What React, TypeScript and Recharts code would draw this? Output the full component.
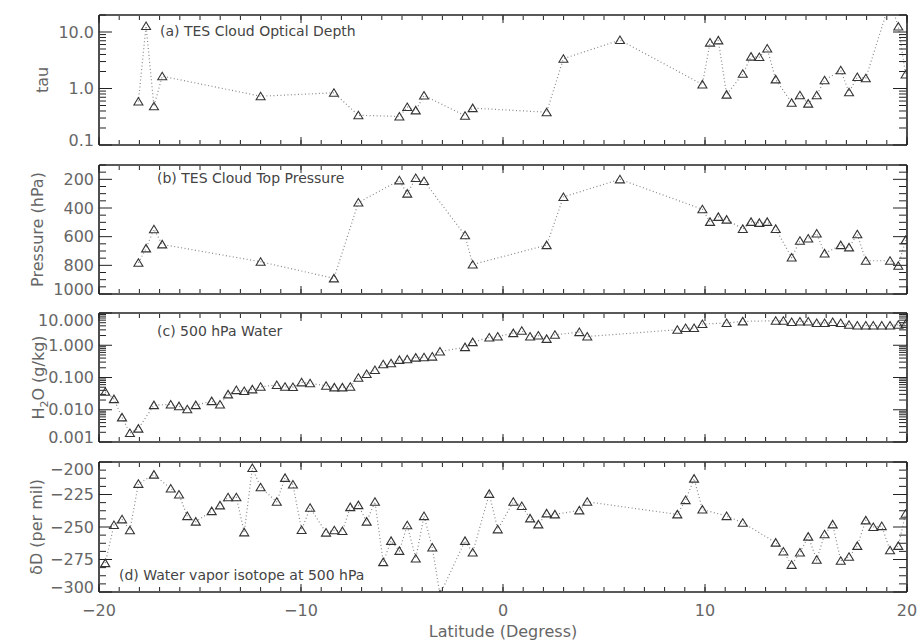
import React from "react";
import { Line, LineChart, XAxis, YAxis } from "recharts";

// latitudes where TES saw cloud (panels a, b)
const cloudLatitude = [
  -18.05, -17.67, -17.28, -16.87, -12.0, -8.37, -7.16, -5.13, -4.74, -4.32,
  -3.91, -1.88, -1.5, 2.16, 2.99, 5.79, 9.87, 10.25, 10.66, 11.07, 11.87,
  12.28, 12.69, 13.08, 13.5, 14.29, 14.7, 15.11, 15.53, 15.92, 16.72, 17.13,
  17.54, 17.96, 19.16, 19.57, 19.93,
];
const tauValues = [
  0.59, 12.8, 0.485, 1.65, 0.73, 0.84, 0.336, 0.32, 0.47, 0.41, 0.75, 0.33,
  0.45, 0.38, 3.37, 7.2, 1.18, 6.5, 7.1, 0.78, 1.82, 3.66, 3.6, 5.1, 1.45,
  0.56, 0.76, 0.54, 0.76, 1.4, 2.1, 0.86, 1.6, 1.52, 35, 12.5, 1.77,
];
const cloudTopPressure = [
  782, 682, 548, 654, 775, 891, 362, 207, 300, 191, 212, 590, 794, 659, 323,
  200, 409, 497, 462, 481, 546, 497, 504, 497, 546, 745, 629, 613, 578, 717,
  659, 675, 583, 768, 768, 803, 624,
];

// latitudes of the 500 hPa retrievals (panels c, d)
const vaporLatitude = [
  -19.69, -19.26, -18.86, -18.47, -18.05, -17.28, -16.45, -16.04, -15.63,
  -15.21, -14.42, -14.01, -13.61, -13.2, -12.81, -12.41, -12.0, -11.2, -10.79,
  -10.4, -9.97, -9.55, -8.76, -8.35, -7.95, -7.56, -7.16, -6.75, -6.34, -5.93,
  -5.54, -5.13, -4.74, -4.32, -3.91, -3.5, -3.12, -1.88, -1.5, -0.68, -0.26,
  0.51, 0.93, 1.34, 1.75, 2.16, 2.57, 3.78, 4.17, 8.63, 9.04, 9.46, 9.87,
  11.07, 11.87, 13.5, 13.88, 14.29, 14.7, 15.11, 15.53, 15.92, 16.32, 16.72,
  17.13, 17.54, 17.96, 18.33, 18.75, 19.16, 19.57, 19.93,
];
const waterValues = [
  0.036, 0.0214, 0.0058, 0.0019, 0.0026, 0.0139, 0.0146, 0.0129, 0.0104,
  0.0139, 0.0185, 0.0146, 0.03, 0.0407, 0.038, 0.0428, 0.0517, 0.0583, 0.0517,
  0.0506, 0.0708, 0.066, 0.0556, 0.0495, 0.0495, 0.0517, 0.0986, 0.128, 0.171,
  0.258, 0.277, 0.351, 0.369, 0.414, 0.425, 0.445, 0.637, 0.873, 1.25, 1.74,
  1.87, 2.38, 2.81, 1.87, 2.0, 1.58, 2.11, 2.56, 1.87, 3.02, 3.41, 3.41, 4.54,
  4.9, 5.5, 5.75, 5.75, 5.25, 5.47, 5.47, 4.9, 4.9, 5.25, 4.9, 4.32, 4.1, 4.1,
  4.1, 4.1, 4.1, 4.3, 4.54,
];
const deltaDValues = [
  -277.8, -248.5, -244.1, -252.5, -216.8, -209.7, -220.4, -225, -241.6,
  -245.9, -237.8, -233.4, -227.1, -227.1, -254.1, -204.6, -219.4, -230.6,
  -212.2, -217.3, -252.3, -235.2, -254.3, -252.5, -253.1, -234.7, -233.2,
  -245.9, -230.6, -277.0, -260.7, -268.4, -248.7, -274.2, -241.6, -265.8, -302,
  -260.7, -269.6, -224.5, -251.8, -230.6, -233.9, -243.4, -248, -239.5, -240.3,
  -237.2, -230.6, -240.3, -229.3, -212.8, -236.5, -241.6, -246.7, -262, -268.9,
  -279.1, -269.6, -257.4, -275.2, -255.6, -248, -276, -272.9, -264.5, -244.9,
  -250, -249.3, -267.9, -264.5, -239.8,
];

// tick marks
const xMajorTicks = [-20, -10, 0, 10, 20];
const xMinorTicks = Array.from({ length: 41 }, (_, i) => i - 20);
const tauTicks = [0.1, 1, 10];
const tauMinor = [0.2, 0.3, 0.4, 0.5, 0.6, 0.7, 0.8, 0.9, 2, 3, 4, 5, 6, 7, 8, 9, 20];
const pressureTicks = [200, 400, 600, 800, 1000];
const pressureMinor = [100, 150, 250, 300, 350, 450, 500, 550, 650, 700, 750, 850, 900, 950];
const waterTicks = [0.001, 0.01, 0.1, 1, 10];
const waterMinor = [
  0.002, 0.003, 0.004, 0.005, 0.006, 0.007, 0.008, 0.009, 0.02, 0.03, 0.04,
  0.05, 0.06, 0.07, 0.08, 0.09, 0.2, 0.3, 0.4, 0.5, 0.6, 0.7, 0.8, 0.9, 2, 3,
  4, 5, 6, 7, 8, 9,
];
const deltaTicks = [-300, -275, -250, -225, -200];
const deltaMinor = [
  -293.75, -287.5, -281.25, -268.75, -262.5, -256.25, -243.75, -237.5,
  -231.25, -218.75, -212.5, -206.25,
];

const cloudRows = cloudLatitude.map((lat, i) => ({
  lat,
  tau: tauValues[i],
  pressure: cloudTopPressure[i],
}));
const vaporRows = vaporLatitude.map((lat, i) => ({
  lat,
  water: waterValues[i],
  deltaD: deltaDValues[i],
}));

const FONT = '"DejaVu Sans", Verdana, sans-serif';
const FRAME = "#222";
const TEXT = "#666";

const minus = (s: string) => s.replace("-", "\u2212");

const NoLabel = () => <g />;

function triangleDot(p: any) {
  const { cx, cy, index } = p;
  if (cx == null || cy == null) return <g key={`t${index}`} />;
  return (
    <path
      key={`t${index}`}
      d={`M${cx - 4.5},${cy + 3.5}L${cx},${cy - 4}L${cx + 4.5},${cy + 3.5}Z`}
      fill="none"
      stroke="#333"
      strokeWidth={1.1}
    />
  );
}

type PanelProps = {
  top: number;
  height: number;
  marginTop: number;
  marginBottom: number;
  data: any[];
  dataKey: string;
  scale: "log" | "linear";
  domain: [number, number];
  reversed?: boolean;
  major: number[];
  minor: number[];
  format: (v: number) => string;
  title: string;
  titleX: number;
  titleY: number;
  yTitle: React.ReactNode;
  yTitleX: number;
  showX?: boolean;
};

function Panel({
  top,
  height,
  marginTop,
  marginBottom,
  data,
  dataKey,
  scale,
  domain,
  reversed = false,
  major,
  minor,
  format,
  title,
  titleX,
  titleY,
  yTitle,
  yTitleX,
  showX = false,
}: PanelProps) {
  const xHeight = showX ? 44 : 0;
  const plotTop = marginTop;
  const plotBottom = height - marginBottom - xHeight;
  const yMid = (plotTop + plotBottom) / 2;

  // IDL pushes the end labels inside the box
  const yTick = (p: any) => {
    const y = Math.min(Math.max(p.y, plotTop + 7), plotBottom - 5);
    return (
      <text
        x={p.x}
        y={y}
        textAnchor="end"
        dominantBaseline="central"
        fill={TEXT}
        fontSize={16}
        fontFamily={FONT}
      >
        {format(p.payload.value)}
      </text>
    );
  };

  const frame = { stroke: FRAME, strokeWidth: 1.6 };
  const tickStroke = { stroke: FRAME, strokeWidth: 1 };

  return (
    <div style={{ position: "absolute", left: 0, top }}>
      <LineChart
        width={917}
        height={height}
        data={data}
        margin={{ top: marginTop, right: 10, bottom: marginBottom, left: 0 }}
      >
        <XAxis xAxisId="bMaj" dataKey="lat" type="number" domain={[-20, 20]} allowDataOverflow
          orientation="bottom" mirror height={1} ticks={xMajorTicks} interval={0}
          tick={NoLabel} tickSize={8} axisLine={frame} tickLine={tickStroke} />
        <XAxis xAxisId="bMin" dataKey="lat" type="number" domain={[-20, 20]} allowDataOverflow
          orientation="bottom" mirror height={1} ticks={xMinorTicks} interval={0}
          tick={NoLabel} tickSize={4} axisLine={false} tickLine={tickStroke} />
        <XAxis xAxisId="tMaj" dataKey="lat" type="number" domain={[-20, 20]} allowDataOverflow
          orientation="top" mirror height={1} ticks={xMajorTicks} interval={0}
          tick={NoLabel} tickSize={8} axisLine={frame} tickLine={tickStroke} />
        <XAxis xAxisId="tMin" dataKey="lat" type="number" domain={[-20, 20]} allowDataOverflow
          orientation="top" mirror height={1} ticks={xMinorTicks} interval={0}
          tick={NoLabel} tickSize={4} axisLine={false} tickLine={tickStroke} />
        {showX && (
          <XAxis xAxisId="lab" dataKey="lat" type="number" domain={[-20, 20]} allowDataOverflow
            orientation="bottom" height={xHeight} ticks={xMajorTicks} interval={0}
            tickFormatter={(v: number) => minus(String(v))}
            tick={{ fill: TEXT, fontSize: 16, fontFamily: FONT }}
            tickSize={0} tickMargin={13} axisLine={false} tickLine={false} />
        )}

        <YAxis yAxisId="lab" type="number" scale={scale} domain={domain} reversed={reversed}
          allowDataOverflow width={99} ticks={major} interval={0} tick={yTick}
          tickSize={0} tickMargin={5} axisLine={false} tickLine={false} />
        <YAxis yAxisId="lMaj" type="number" scale={scale} domain={domain} reversed={reversed}
          allowDataOverflow orientation="left" mirror width={1} ticks={major} interval={0}
          tick={NoLabel} tickSize={13} axisLine={frame} tickLine={tickStroke} />
        <YAxis yAxisId="lMin" type="number" scale={scale} domain={domain} reversed={reversed}
          allowDataOverflow orientation="left" mirror width={1} ticks={minor} interval={0}
          tick={NoLabel} tickSize={6} axisLine={false} tickLine={tickStroke} />
        <YAxis yAxisId="rMaj" type="number" scale={scale} domain={domain} reversed={reversed}
          allowDataOverflow orientation="right" mirror width={1} ticks={major} interval={0}
          tick={NoLabel} tickSize={14} axisLine={frame} tickLine={tickStroke} />
        <YAxis yAxisId="rMin" type="number" scale={scale} domain={domain} reversed={reversed}
          allowDataOverflow orientation="right" mirror width={1} ticks={minor} interval={0}
          tick={NoLabel} tickSize={7} axisLine={false} tickLine={tickStroke} />

        <Line
          xAxisId="bMaj"
          yAxisId="lab"
          dataKey={dataKey}
          stroke="#888"
          strokeWidth={1.2}
          strokeDasharray="1 2.5"
          dot={triangleDot}
          activeDot={false}
          isAnimationActive={false}
        />

        <text x={titleX} y={titleY} dominantBaseline="central" fill="#444" fontSize={14} fontFamily={FONT}>
          {title}
        </text>
        <text
          x={yTitleX}
          y={yMid}
          transform={`rotate(-90 ${yTitleX} ${yMid})`}
          textAnchor="middle"
          fill={TEXT}
          fontSize={16}
          fontFamily={FONT}
        >
          {yTitle}
        </text>
        {showX && (
          <text x={503} y={height - 3} textAnchor="middle" fill={TEXT} fontSize={16} fontFamily={FONT}>
            Latitude (Degress)
          </text>
        )}
      </LineChart>
    </div>
  );
}

export default function App() {
  return (
    <div style={{ position: "absolute", left: 0, top: 0, width: 917, height: 640, background: "#fff" }}>
      <Panel
        top={0}
        height={150}
        marginTop={15}
        marginBottom={5}
        data={cloudRows}
        dataKey="tau"
        scale="log"
        domain={[0.1, 20]}
        major={tauTicks}
        minor={tauMinor}
        format={(v) => v.toFixed(1)}
        title="(a) TES Cloud Optical Depth"
        titleX={160}
        titleY={31}
        yTitle="tau"
        yTitleX={48}
      />
      <Panel
        top={150}
        height={150}
        marginTop={15}
        marginBottom={6}
        data={cloudRows}
        dataKey="pressure"
        scale="linear"
        domain={[100, 1000]}
        reversed
        major={pressureTicks}
        minor={pressureMinor}
        format={(v) => String(v)}
        title="(b) TES Cloud Top Pressure"
        titleX={157}
        titleY={28}
        yTitle="Pressure (hPa)"
        yTitleX={43}
      />
      <Panel
        top={300}
        height={150}
        marginTop={13}
        marginBottom={8}
        data={vaporRows}
        dataKey="water"
        scale="log"
        domain={[0.001, 10]}
        major={waterTicks}
        minor={waterMinor}
        format={(v) => v.toFixed(3)}
        title="(c) 500 hPa Water"
        titleX={157}
        titleY={31}
        yTitle={
          <>
            H<tspan dy={4} fontSize={11}>2</tspan>
            <tspan dy={-4}>O (g/kg)</tspan>
          </>
        }
        yTitleX={44}
      />
      <Panel
        top={447}
        height={193}
        marginTop={15}
        marginBottom={4}
        data={vaporRows}
        dataKey="deltaD"
        scale="linear"
        domain={[-300, -200]}
        major={deltaTicks}
        minor={deltaMinor}
        format={(v) => minus(String(v))}
        title="(d) Water vapor isotope at 500 hPa"
        titleX={119}
        titleY={128}
        yTitle="δD (per mil)"
        yTitleX={42}
        showX
      />
    </div>
  );
}
